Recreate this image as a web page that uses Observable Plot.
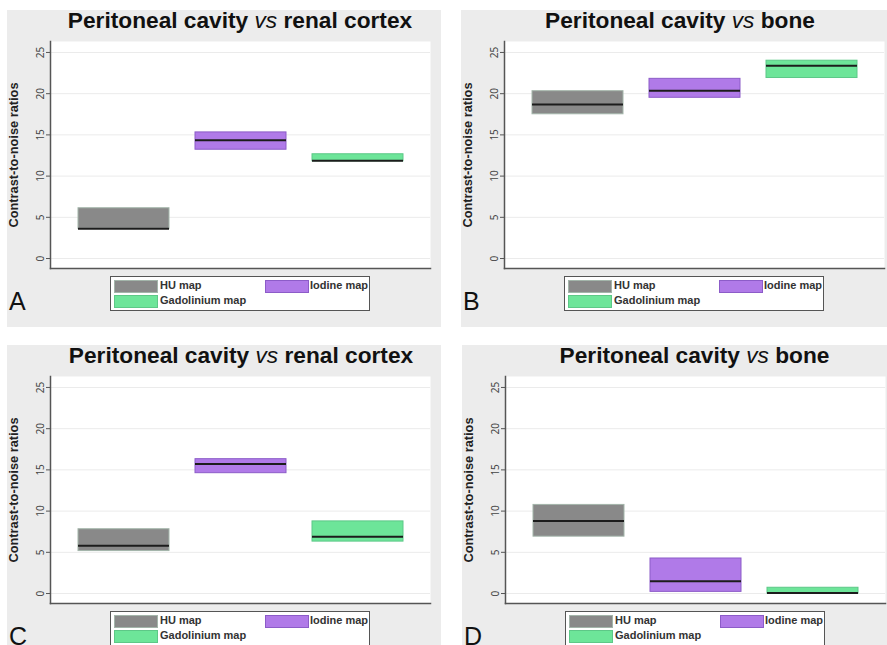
<!DOCTYPE html>
<html>
<head>
<meta charset="utf-8">
<script src="https://cdn.jsdelivr.net/npm/d3@7"></script>
<script src="https://cdn.jsdelivr.net/npm/@observablehq/plot@0.6"></script>
<style>
  body { margin:0; width:887px; height:645px; overflow:hidden; position:relative; background:#fff;
         font-family:"Liberation Sans", Arial, sans-serif; }
  .panel { position:absolute; width:434px; height:317px; background:#ececec; }
  .panel.bottom { height:300px; }
  .title { position:absolute; top:-1px; font-size:22.7px; line-height:22.7px; font-weight:bold; color:#111; white-space:nowrap; transform:translateX(-50%); }
  .title i { font-weight:normal; }
  .ylab { position:absolute; left:6px; top:144.5px; font-size:12.8px; font-weight:bold; color:#222; white-space:nowrap;
          transform:translate(-50%,-50%) rotate(-90deg); }
  .plot { position:absolute; left:0; top:0; max-width:none !important; }
  .legend { position:absolute; left:103px; top:266px; width:258px; height:33px; background:#fff; border:1px solid #555; }
  .sw { position:absolute; width:42px; height:11px; border:1px solid; }
  .lt { position:absolute; font-size:11px; font-weight:bold; color:#333; white-space:nowrap; }
  .letter { position:absolute; left:2px; top:277px; font-size:25px; line-height:29px; color:#111; }
</style>
</head>
<body>
<script>
// ---- data ----
const maps = ["HU map", "Iodine map", "Gadolinium map"];
const colors = ["#898989", "#b07ae8", "#6de599"];
const borders = ["#a3b5aa", "#8c5cc8", "#5dc887"];
const yTicks = [0, 5, 10, 15, 20, 25];

const titlesMain = ["Peritoneal cavity ", "Peritoneal cavity ", "Peritoneal cavity ", "Peritoneal cavity "];
const titlesEnd = ["renal cortex", "bone", "renal cortex", "bone"];
const letters = ["A", "B", "C", "D"];

// lower quartile, upper quartile, median for HU / Iodine / Gadolinium
const lowA = [3.6, 13.2, 11.8],  highA = [6.1, 15.3, 12.65], medA = [3.6, 14.35, 11.85];
const lowB = [17.5, 19.5, 21.9], highB = [20.3, 21.8, 24.0], medB = [18.7, 20.35, 23.4];
const lowC = [5.15, 14.6, 6.3],  highC = [7.8, 16.3, 8.75],  medC = [5.8, 15.7, 6.9];
const lowD = [6.9, 0.2, 0.0],    highD = [10.75, 4.25, 0.7], medD = [8.8, 1.5, 0.05];

const panels = [
  {low: lowA, high: highA, med: medA, left: 7,   top: 10,  tx: 233},
  {low: lowB, high: highB, med: medB, left: 461, top: 10,  tx: 219},
  {low: lowC, high: highC, med: medC, left: 7,   top: 345, tx: 234},
  {low: lowD, high: highD, med: medD, left: 462, top: 345, tx: 232.5}
];

panels.forEach((p, i) => {
  const div = document.createElement("div");
  div.className = "panel" + (i >= 2 ? " bottom" : "");
  div.style.left = p.left + "px";
  div.style.top = p.top + "px";
  document.body.appendChild(div);

  const data = maps.map((m, j) => ({map: m, lo: p.low[j], hi: p.high[j], med: p.med[j]}));

  const chart = Plot.plot({
    width: 434, height: 262,
    marginLeft: 43, marginRight: 11, marginTop: 31, marginBottom: 4,
    style: {background: "transparent", overflow: "visible", maxWidth: "none"},
    x: {domain: maps, paddingInner: 0.225, paddingOuter: 0.23, axis: null},
    y: {domain: [-1.21, 26.33]},
    color: {domain: maps, range: colors},
    marks: [
      Plot.frame({fill: "white"}),
      Plot.ruleY(yTicks, {stroke: "#ebebeb", strokeWidth: 1}),
      Plot.barY(data, {x: "map", y1: "lo", y2: "hi", fill: "map",
        stroke: d => borders[maps.indexOf(d.map)], strokeWidth: 1}),
      Plot.tickY(data, {x: "map", y: "med", stroke: "#1c1c1c", strokeWidth: 2}),
      Plot.axisY({ticks: yTicks, tickSize: 4, tickRotate: -90, tickPadding: 3,
        fontSize: 10, color: "#444", label: null, stroke: "#555"}),
      Plot.frame({anchor: "left", stroke: "#555", strokeWidth: 1.5}),
      Plot.frame({anchor: "bottom", stroke: "#555", strokeWidth: 1.5})
    ]
  });
  chart.classList.add("plot");
  div.appendChild(chart);

  const t = document.createElement("div");
  t.className = "title";
  t.style.left = p.tx + "px";
  t.innerHTML = titlesMain[i] + "<i>vs</i> " + titlesEnd[i];
  div.appendChild(t);

  const yl = document.createElement("div");
  yl.className = "ylab";
  yl.textContent = "Contrast-to-noise ratios";
  div.appendChild(yl);

  const lg = document.createElement("div");
  lg.className = "legend";
  const pos = [{x: 3, y: 3, tx: 49}, {x: 154, y: 3, tx: 199}, {x: 3, y: 18, tx: 49}];
  maps.forEach((m, j) => {
    const s = document.createElement("div");
    s.className = "sw";
    s.style.left = pos[j].x + "px"; s.style.top = pos[j].y + "px";
    s.style.background = colors[j]; s.style.borderColor = borders[j];
    lg.appendChild(s);
    const l = document.createElement("div");
    l.className = "lt";
    l.style.left = pos[j].tx + "px"; l.style.top = (pos[j].y - 1) + "px";
    l.textContent = m;
    lg.appendChild(l);
  });
  div.appendChild(lg);

  const L = document.createElement("div");
  L.className = "letter";
  L.textContent = letters[i];
  div.appendChild(L);
});
</script>
</body>
</html>
